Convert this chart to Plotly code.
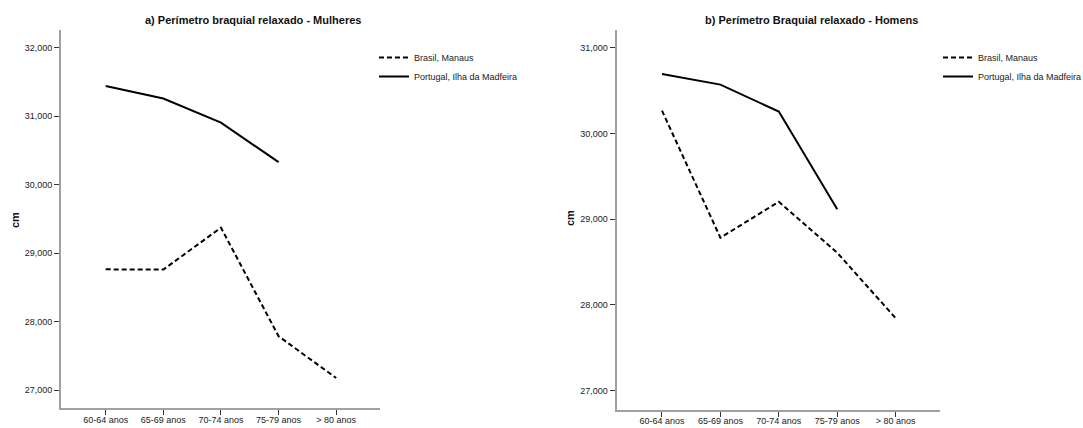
import plotly.graph_objects as go

categorias = ["60-64 anos", "65-69 anos", "70-74 anos", "75-79 anos", "> 80 anos"]

# a) Mulheres
mulheres_brasil = [28762, 28758, 29371, 27785, 27175]
mulheres_portugal = [31441, 31256, 30905, 30327]

# b) Homens
homens_brasil = [30265, 28783, 29203, 28608, 27845]
homens_portugal = [30693, 30569, 30254, 29115]

titulo_a = "a) Perímetro braquial relaxado - Mulheres"
titulo_b = "b) Perímetro Braquial relaxado - Homens"

FONT = "Liberation Sans, Arial, sans-serif"
NARROW = "Liberation Sans Narrow, Arial Narrow, Liberation Sans, sans-serif"
AXIS_GRAY = "#a0a0a0"

fig = go.Figure()

dash_style = "5px,3px"

fig.add_trace(go.Scatter(x=categorias, y=mulheres_brasil, mode="lines", name="Brasil, Manaus",
                         line=dict(color="black", width=2, dash=dash_style),
                         xaxis="x", yaxis="y", legend="legend"))
fig.add_trace(go.Scatter(x=categorias[:4], y=mulheres_portugal, mode="lines", name="Portugal, Ilha da Madfeira",
                         line=dict(color="black", width=2),
                         xaxis="x", yaxis="y", legend="legend"))
fig.add_trace(go.Scatter(x=categorias, y=homens_brasil, mode="lines", name="Brasil, Manaus",
                         line=dict(color="black", width=2, dash=dash_style),
                         xaxis="x2", yaxis="y2", legend="legend2"))
fig.add_trace(go.Scatter(x=categorias[:4], y=homens_portugal, mode="lines", name="Portugal, Ilha da Madfeira",
                         line=dict(color="black", width=2),
                         xaxis="x2", yaxis="y2", legend="legend2"))

xcommon = dict(type="category", categoryorder="array", categoryarray=categorias,
               range=[-0.776, 4.76], showline=True, linecolor=AXIS_GRAY, linewidth=2,
               ticks="outside", ticklen=5, tickcolor="#333", tickwidth=1,
               ticklabelstandoff=-3,
               showgrid=False, zeroline=False,
               tickfont=dict(family=FONT, size=9, color="#222"))
ycommon = dict(showline=True, linecolor=AXIS_GRAY, linewidth=2,
               ticks="outside", ticklen=5, tickcolor="#333", tickwidth=1,
               showgrid=False, zeroline=False, tickformat=",d", dtick=1000,
               tickfont=dict(family=FONT, size=9, color="#222"))

legend_common = dict(xanchor="left", yanchor="top", itemwidth=30, tracegroupgap=0,
                     bgcolor="rgba(0,0,0,0)",
                     font=dict(family=NARROW, size=9, color="#222"))

title_font = dict(family=FONT, size=11, color="#111")

fig.update_layout(
    width=1083, height=428,
    margin=dict(l=0, r=0, t=0, b=0, autoexpand=False),
    paper_bgcolor="white", plot_bgcolor="white",
    showlegend=True,
    xaxis=dict(domain=[0.0563, 0.3509], anchor="y", **xcommon),
    yaxis=dict(domain=[0.0467, 0.93], anchor="x", range=[26737, 32258], **ycommon),
    xaxis2=dict(domain=[0.5694, 0.868], anchor="y2", **xcommon),
    yaxis2=dict(domain=[0.0428, 0.93], anchor="x2", range=[26778, 31206], **ycommon),
    legend=dict(x=374 / 1083, y=1 - 43 / 428, **legend_common),
    legend2=dict(x=938 / 1083, y=1 - 43 / 428, **legend_common),
    annotations=[
        dict(text="<b>" + titulo_a + "</b>", x=253 / 1083, y=1 - 20 / 428, xref="paper", yref="paper",
             xanchor="center", yanchor="middle", showarrow=False, font=title_font),
        dict(text="<b>" + titulo_b + "</b>", x=811 / 1083, y=1 - 20 / 428, xref="paper", yref="paper",
             xanchor="center", yanchor="middle", showarrow=False, font=title_font),
        dict(text="<b>cm</b>", x=15 / 1083, y=1 - 220 / 428, xref="paper", yref="paper",
             xanchor="center", yanchor="middle", showarrow=False, textangle=-90, font=title_font),
        dict(text="<b>cm</b>", x=570 / 1083, y=1 - 218 / 428, xref="paper", yref="paper",
             xanchor="center", yanchor="middle", showarrow=False, textangle=-90, font=title_font),
    ],
)

fig.write_html("out.html")
